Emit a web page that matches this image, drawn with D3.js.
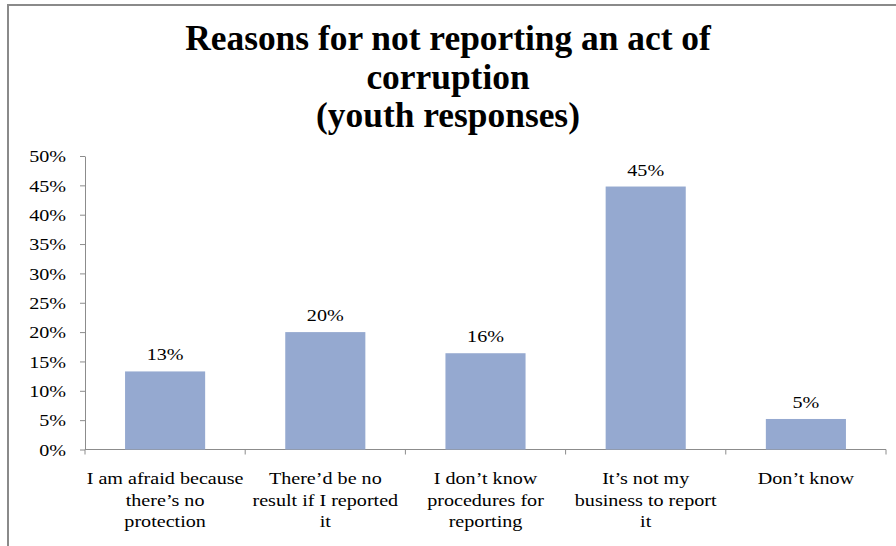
<!DOCTYPE html>
<html>
<head>
<meta charset="utf-8">
<script src="https://cdn.jsdelivr.net/npm/d3@7"></script>
<style>
  html, body { margin: 0; padding: 0; background: #fff; }
  svg { display: block; }
  text { font-family: "Liberation Serif", "Times New Roman", serif; fill: #000; }
</style>
</head>
<body>
<svg id="chart" width="896" height="546"></svg>
<script>
// Survey data: reasons young people give for not reporting corruption
const titleLines = ["Reasons for not reporting an act of", "corruption", "(youth responses)"];
const categories = [
  "I am afraid because there’s no protection",
  "There’d be no result if I reported it",
  "I don’t know procedures for reporting",
  "It’s not my business to report it",
  "Don’t know"
];
const categoryLines = [
  ["I am afraid because", "there’s no", "protection"],
  ["There’d be no", "result if I reported", "it"],
  ["I don’t know", "procedures for", "reporting"],
  ["It’s not my", "business to report", "it"],
  ["Don’t know"]
];
const shares = [0.133, 0.20, 0.164, 0.448, 0.052];
const yTicks = [0, 0.05, 0.10, 0.15, 0.20, 0.25, 0.30, 0.35, 0.40, 0.45, 0.50];

const svg = d3.select("#chart");
const pct = d3.format(".0%");
const SX = 1.15;          // horizontal stretch applied to the body text
const FS = 17.5;          // body text size
const axisColor = "#8c8c8c";
const barColor = "#95a9d0";

// Outer frame
svg.append("path")
  .attr("d", "M8,560 L8,5 L900,5")
  .attr("fill", "none")
  .attr("stroke", "#8a8a8a")
  .attr("stroke-width", 2);

// Title, narrowed to the width of its first line
const title = svg.append("g");
const titleCx = 448;
const titleBase = [50, 88.5, 127];
const tl = title.selectAll("text").data(titleLines).join("text")
  .attr("text-anchor", "middle")
  .attr("font-weight", "bold")
  .attr("font-size", 35)
  .text(d => d);
const w0 = tl.nodes()[0].getComputedTextLength();
const tsx = 526 / w0;
tl.attr("transform", (d, i) => `translate(${titleCx},${titleBase[i]}) scale(${tsx},1)`);

// Scales
const x = d3.scaleBand().domain(categories).range([85, 886]).paddingInner(0.5).paddingOuter(0.25);
const y = d3.scaleLinear().domain([0, 0.5]).range([449.5, 156]);

// Y axis
const yAxis = svg.append("g")
  .attr("transform", "translate(85,0)")
  .call(d3.axisLeft(y).tickValues(yTicks).tickFormat(pct).tickSize(5).tickSizeOuter(0).tickPadding(14));
yAxis.select(".domain").attr("stroke", axisColor);
yAxis.selectAll(".tick line").attr("stroke", axisColor);
yAxis.selectAll(".tick text")
  .attr("font-family", "Liberation Serif, serif")
  .attr("font-size", FS)
  .attr("fill", "#000")
  .attr("dy", null)
  .attr("transform", `scale(${SX},1)`)
  .attr("x", -19 / SX)
  .attr("y", FS * 0.33);

// X axis baseline and category boundary ticks
const step = x.step();
const gap = step - x.bandwidth();
const bounds = categories.map(c => x(c) - gap / 2).concat([x(categories[categories.length - 1]) + x.bandwidth() + gap / 2]);
svg.append("line")
  .attr("x1", x.range()[0]).attr("x2", x.range()[1])
  .attr("y1", y(0)).attr("y2", y(0))
  .attr("stroke", axisColor);
svg.append("g").selectAll("line").data(bounds).join("line")
  .attr("x1", d => d).attr("x2", d => d)
  .attr("y1", y(0)).attr("y2", y(0) + 5)
  .attr("stroke", axisColor);

// Bars
svg.append("g").selectAll("rect").data(shares).join("rect")
  .attr("x", (d, i) => x(categories[i]))
  .attr("width", x.bandwidth())
  .attr("y", d => y(d))
  .attr("height", d => y(0) - y(d))
  .attr("fill", barColor);

// Value labels
svg.append("g").selectAll("text").data(shares).join("text")
  .attr("text-anchor", "middle")
  .attr("font-size", FS)
  .attr("transform", (d, i) => `translate(${x(categories[i]) + x.bandwidth() / 2},${y(d) - 11}) scale(${SX},1)`)
  .text(d => pct(d));

// Category labels
const catG = svg.append("g").selectAll("g").data(categoryLines).join("g");
catG.selectAll("text").data((d, i) => d.map(t => ({ t, i }))).join("text")
  .attr("text-anchor", "middle")
  .attr("font-size", FS)
  .attr("transform", (d, j) => `translate(${x(categories[d.i]) + x.bandwidth() / 2},${484 + j * 21.5}) scale(${SX},1)`)
  .text(d => d.t);
</script>
</body>
</html>
